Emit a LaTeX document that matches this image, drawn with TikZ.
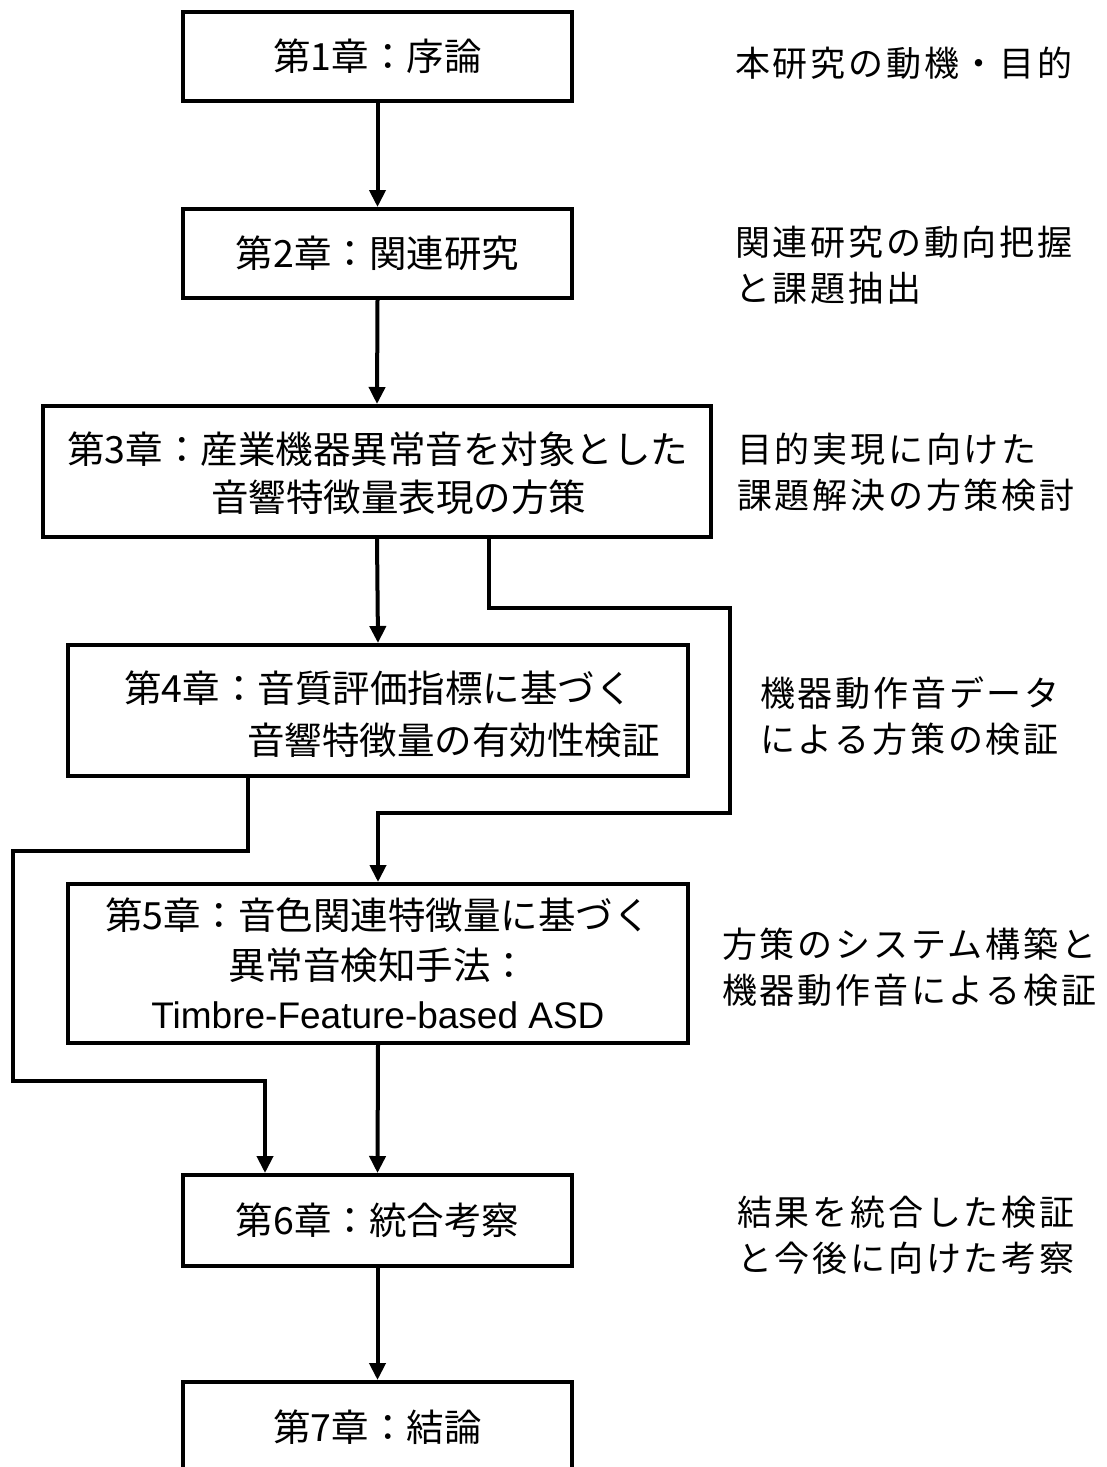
\documentclass[tikz,border=0pt]{standalone}
\usepackage{fontspec}
\usetikzlibrary{arrows.meta}
\newfontfamily\boxjp{Noto Sans CJK JP}
\newfontfamily\sidejp[LetterSpace=8]{Noto Sans CJK JP}
\newfontfamily\latinf{Liberation Sans}
\begin{document}
\begin{tikzpicture}[x=1pt,y=-1pt,
  chap/.style={draw=black, line width=4pt, inner sep=0pt, fill=white},
  btext/.style={inner sep=0pt, font=\boxjp\fontsize{37.5}{48}\selectfont},
  side/.style={inner sep=0pt, anchor=west, align=left, font=\sidejp\fontsize{35}{46}\selectfont},
  conn/.style={line width=4pt, -{Triangle[length=17pt,width=16pt]}},
  link/.style={line width=4pt}]
\fill[white] (0,0) rectangle (1106,1467);
\clip (0,0) rectangle (1106,1467);
% boxes
\node[chap, minimum width=389pt, minimum height=89pt, btext] (c1) at (377.5,56.5) {第1章：序論};
\node[chap, minimum width=389pt, minimum height=89pt, btext] (c2) at (377.5,253.5) {第2章：関連研究};
\node[chap, minimum width=668pt, minimum height=131pt] (c3) at (377,471.5) {};
\node[btext, anchor=west] (c3a) at (67,449) {第3章：産業機器異常音を対象とした};
\node[btext, anchor=west] (c3b) at (211,497) {音響特徴量表現の方策};
\node[chap, minimum width=620pt, minimum height=131pt] (c4) at (378,710.5) {};
\node[btext, anchor=west] (c4a) at (124,688) {第4章：音質評価指標に基づく};
\node[btext, anchor=west] (c4b) at (247,740) {音響特徴量の有効性検証};
\node[chap, minimum width=620pt, minimum height=159pt, btext, align=center, font=\boxjp\fontsize{37.5}{49.5}\selectfont] (c5) at (378,963.5)
  {第5章：音色関連特徴量に基づく\\異常音検知手法：\\{\latinf\fontsize{37}{49.5}\selectfont Timbre-Feature-based ASD}};
\node[chap, minimum width=389pt, minimum height=91pt, btext] (c6) at (377.5,1220.5) {第6章：統合考察};
\node[chap, minimum width=389pt, minimum height=90pt, btext] (c7) at (377.5,1427) {第7章：結論};
% side texts
\node[side] (s1) at (735,63) {本研究の動機・目的};
\node[side] (s2) at (735,265.5) {関連研究の動向把握\\と課題抽出};
\node[side] (s3) at (737,472.5) {目的実現に向けた\\課題解決の方策検討};
\node[side] (s4) at (760,716.5) {機器動作音データ\\による方策の検証};
\node[side] (s5) at (722,967.5) {方策のシステム構築と\\機器動作音による検証};
\node[side] (s6) at (737,1235) {結果を統合した検証\\と今後に向けた考察};
% bend points
\coordinate (p1) at (489,608);
\coordinate (p2) at (730,608);
\coordinate (p3) at (730,813);
\coordinate (p4) at (378,813);
\coordinate (q1) at (248,851);
\coordinate (q2) at (13,851);
\coordinate (q3) at (13,1081);
\coordinate (q4) at (265,1081);
% connectors
\draw[conn] (c1.south) -- (c2.north);
\draw[conn] (c2.south) -- (c3.north);
\draw[conn] (c3.south) -- (c4.north);
\draw[conn] (p1 |- c3.south) -- (p1) -- (p2) -- (p3) -- (p4) -- (c5.north);
\draw[conn] (q1 |- c4.south) -- (q1) -- (q2) -- (q3) -- (q4) -- (q4 |- c6.north);
\draw[conn] (c5.south) -- (c6.north);
\draw[conn] (c6.south) -- (c7.north);
\end{tikzpicture}
\end{document}
